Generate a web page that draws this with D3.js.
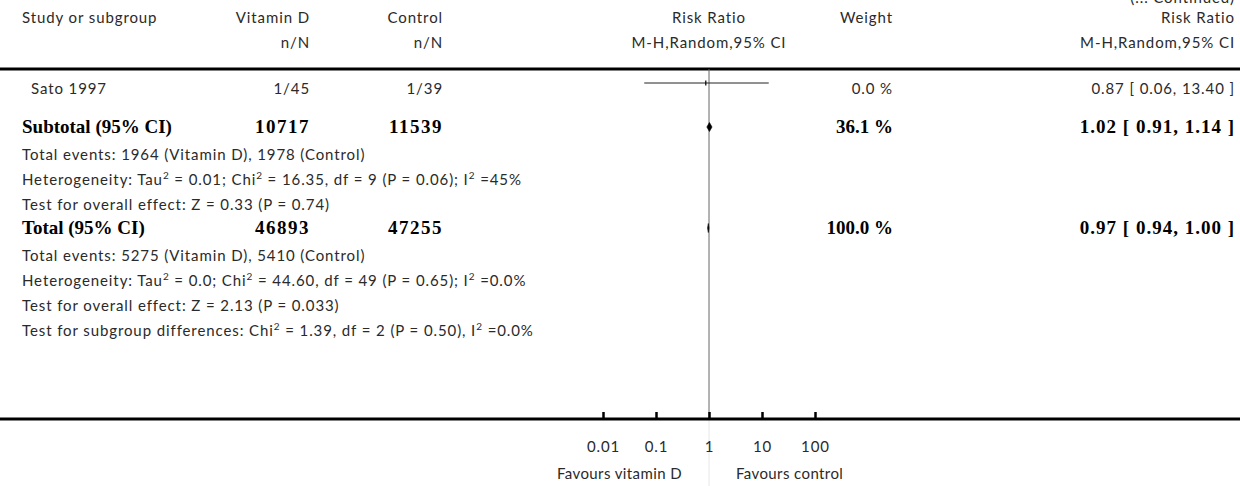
<!DOCTYPE html>
<html>
<head>
<meta charset="utf-8">
<script src="https://cdn.jsdelivr.net/npm/d3@7"></script>
<style>
  html, body { margin: 0; padding: 0; background: #fff; }
  svg { display: block; }
  .sans { font-family: Lato, "Open Sans", sans-serif; font-size: 15px; letter-spacing: 0.9px; fill: #2a2a2a; }
  .sans.fav { letter-spacing: 0.4px; }
  .bold { font-family: "Liberation Serif", "Times New Roman", serif; font-weight: bold; font-size: 19px; fill: #000; }
  .bold .num { letter-spacing: 1.5px; }
  .bold .ci { letter-spacing: 1.0px; }
</style>
</head>
<body>
<svg id="chart" width="1240" height="486"></svg>
<script>
// Individual studies in this part of the table
const studies = ["Sato 1997"];
const vitDEvents = [1];
const vitDTotal = [45];
const ctrlEvents = [1];
const ctrlTotal = [39];
const studyWeight = [0.0];
const studyRR = [0.87];
const studyLow = [0.06];
const studyHigh = [13.40];

// Pooled rows: subgroup subtotal and overall total
const pooledLabels = ["Subtotal (95% CI)", "Total (95% CI)"];
const pooledVitDN = [10717, 46893];
const pooledCtrlN = [11539, 47255];
const pooledWeight = [36.1, 100.0];
const pooledRR = [1.02, 0.97];
const pooledLow = [0.91, 0.94];
const pooledHigh = [1.14, 1.00];

// Notes printed beneath each pooled row (odd entries are superscripts)
const subtotalNotes = [
  ["Total events: 1964 (Vitamin D), 1978 (Control)"],
  ["Heterogeneity: Tau", "2", " = 0.01; Chi", "2", " = 16.35, df = 9 (P = 0.06); I", "2", " =45%"],
  ["Test for overall effect: Z = 0.33 (P = 0.74)"]
];
const totalNotes = [
  ["Total events: 5275 (Vitamin D), 5410 (Control)"],
  ["Heterogeneity: Tau", "2", " = 0.0; Chi", "2", " = 44.60, df = 49 (P = 0.65); I", "2", " =0.0%"],
  ["Test for overall effect: Z = 2.13 (P = 0.033)"],
  ["Test for subgroup differences: Chi", "2", " = 1.39, df = 2 (P = 0.50), I", "2", " =0.0%"]
];

// Axis
const tickValues = [0.01, 0.1, 1, 10, 100];
const tickLabels = ["0.01", "0.1", "1", "10", "100"];
const favourLabels = ["Favours vitamin D", "Favours control"];

const svg = d3.select("#chart");
const W = 1240;

// Column anchors
const colStudy = 31, colLeft = 22, colVitD = 310, colCtrl = 443, colWeight = 893, colCI = 1235;
const topLineY = 69, axisY = 419;

const x = d3.scaleLog().domain([0.01, 100]).range([603, 815]);
const fmt2 = d3.format(".2f");
const fmt1 = d3.format(".1f");

// "(... Continued)" marker running off the top edge
svg.append("text").attr("x", colCI).attr("y", 3).attr("text-anchor", "end")
  .attr("class", "sans")
  .text("(... Continued)");

// Column headers
const hdr1 = 23, hdr2 = 48;
const header = svg.append("g").attr("class", "sans");
header.append("text").attr("x", colLeft).attr("y", hdr1).text("Study or subgroup");
header.append("text").attr("x", colVitD).attr("y", hdr1).attr("text-anchor", "end").text("Vitamin D");
header.append("text").attr("x", colCtrl).attr("y", hdr1).attr("text-anchor", "end").text("Control");
header.append("text").attr("x", colVitD).attr("y", hdr2).attr("text-anchor", "end").text("n/N");
header.append("text").attr("x", colCtrl).attr("y", hdr2).attr("text-anchor", "end").text("n/N");
header.append("text").attr("x", x(1)).attr("y", hdr1).attr("text-anchor", "middle").text("Risk Ratio");
header.append("text").attr("x", x(1)).attr("y", hdr2).attr("text-anchor", "middle").text("M-H,Random,95% CI");
header.append("text").attr("x", colWeight).attr("y", hdr1).attr("text-anchor", "end").text("Weight");
header.append("text").attr("x", colCI).attr("y", hdr1).attr("text-anchor", "end").text("Risk Ratio");
header.append("text").attr("x", colCI).attr("y", hdr2).attr("text-anchor", "end").text("M-H,Random,95% CI");

// Heavy rule under the header
svg.append("line").attr("x1", 0).attr("x2", W).attr("y1", topLineY).attr("y2", topLineY)
  .attr("stroke", "#000").attr("stroke-width", 3);

// Line of no effect
svg.append("line").attr("x1", x(1)).attr("x2", x(1)).attr("y1", topLineY).attr("y2", axisY)
  .attr("stroke", "#666").attr("stroke-width", 1);
svg.append("line").attr("x1", x(1)).attr("x2", x(1)).attr("y1", axisY).attr("y2", 486)
  .attr("stroke", "#e6e6e6").attr("stroke-width", 1);

// Study rows
const studyRowY = 94, studyMarkY = 83;
studies.forEach((s, i) => {
  const ty = studyRowY + i * 25, my = studyMarkY + i * 25;
  const g = svg.append("g").attr("class", "sans");
  g.append("text").attr("x", colStudy).attr("y", ty).text(s);
  g.append("text").attr("x", colVitD).attr("y", ty).attr("text-anchor", "end").text(vitDEvents[i] + "/" + vitDTotal[i]);
  g.append("text").attr("x", colCtrl).attr("y", ty).attr("text-anchor", "end").text(ctrlEvents[i] + "/" + ctrlTotal[i]);
  g.append("text").attr("x", colWeight).attr("y", ty).attr("text-anchor", "end").text(fmt1(studyWeight[i]) + " %");
  g.append("text").attr("x", colCI).attr("y", ty).attr("text-anchor", "end")
    .text(fmt2(studyRR[i]) + " [ " + fmt2(studyLow[i]) + ", " + fmt2(studyHigh[i]) + " ]");
  svg.append("line").attr("x1", x(studyLow[i])).attr("x2", x(studyHigh[i])).attr("y1", my).attr("y2", my)
    .attr("stroke", "#222").attr("stroke-width", 1);
  // weight-scaled box (a sliver for a 0.0 % weight)
  const bw = Math.max(1.2, Math.sqrt(studyWeight[i]) * 2);
  svg.append("rect").attr("x", x(studyRR[i]) - bw / 2).attr("y", my - 2.5).attr("width", bw).attr("height", 5)
    .attr("fill", "#000");
});

// Note lines with superscripts
function noteLine(y, parts) {
  const t = svg.append("text").attr("class", "sans").attr("x", colLeft).attr("y", y);
  parts.forEach((p, k) => {
    const sup = k % 2 === 1;
    t.append("tspan")
      .attr("dy", sup ? -6 : (k > 0 ? 6 : 0))
      .style("font-size", sup ? "10px" : null)
      .text(p);
  });
}

// Pooled rows and their notes
const pooledRowY = [133, 234];
const pooledNotes = [subtotalNotes, totalNotes];
pooledLabels.forEach((lab, i) => {
  const ty = pooledRowY[i], my = ty - 6;
  const g = svg.append("g").attr("class", "bold");
  g.append("text").attr("x", colLeft).attr("y", ty).text(lab);
  g.append("text").attr("class", "num").attr("x", colVitD).attr("y", ty).attr("text-anchor", "end").text(pooledVitDN[i]);
  g.append("text").attr("class", "num").attr("x", colCtrl).attr("y", ty).attr("text-anchor", "end").text(pooledCtrlN[i]);
  g.append("text").attr("x", colWeight).attr("y", ty).attr("text-anchor", "end").text(fmt1(pooledWeight[i]) + " %");
  g.append("text").attr("class", "ci").attr("x", colCI).attr("y", ty).attr("text-anchor", "end")
    .text(fmt2(pooledRR[i]) + " [ " + fmt2(pooledLow[i]) + ", " + fmt2(pooledHigh[i]) + " ]");
  // pooled estimate diamond
  const pts = [[x(pooledLow[i]), my], [x(pooledRR[i]), my - 4.5], [x(pooledHigh[i]), my], [x(pooledRR[i]), my + 4.5]];
  svg.append("path").attr("d", d3.line()(pts) + "Z").attr("fill", "#000").attr("stroke", "#000").attr("stroke-width", 0.6);
  pooledNotes[i].forEach((parts, k) => noteLine(ty + 27 + k * 25, parts));
});

// Bottom axis: heavy baseline, upward ticks, labels below
svg.append("line").attr("x1", 0).attr("x2", W).attr("y1", axisY).attr("y2", axisY)
  .attr("stroke", "#000").attr("stroke-width", 3);
const axis = d3.axisBottom(x).tickValues(tickValues)
  .tickFormat((d, i) => tickLabels[i]).tickSize(-7).tickPadding(22);
const ax = svg.append("g").attr("transform", `translate(0,${axisY})`).call(axis);
ax.select(".domain").remove();
ax.selectAll(".tick line").attr("stroke", "#000").attr("stroke-width", 2.5);
ax.selectAll(".tick text").attr("class", "sans").attr("font-family", null).attr("font-size", null)
  .style("fill", "#2a2a2a");

svg.append("text").attr("class", "sans fav").attr("x", x(1) - 27).attr("y", 479).attr("text-anchor", "end").text(favourLabels[0]);
svg.append("text").attr("class", "sans fav").attr("x", x(1) + 27).attr("y", 479).attr("text-anchor", "start").text(favourLabels[1]);
</script>
</body>
</html>
